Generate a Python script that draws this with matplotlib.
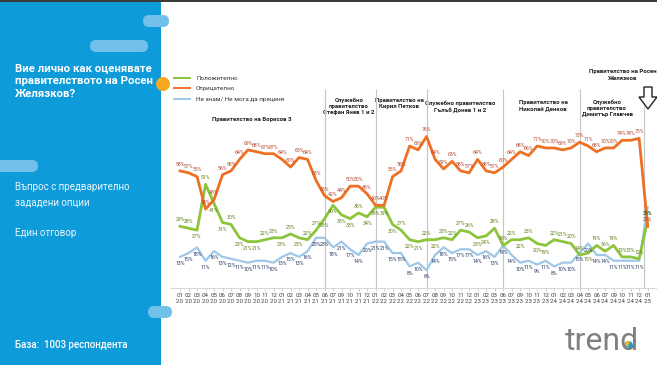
import matplotlib
matplotlib.use("Agg")
import matplotlib.pyplot as plt
from matplotlib.lines import Line2D
from matplotlib.patches import Circle, FancyBboxPatch, Polygon, Rectangle, Wedge

plt.rcParams["font.family"] = ["Roboto", "DejaVu Sans"]

# survey months (x axis)
months = (
    ["01", "02", "03", "04", "05", "06", "07", "08", "09", "10", "11", "12"]
    + ["01", "02", "03", "04", "05", "06", "07", "09", "10", "11", "12"]
    + ["01", "02", "03", "04", "05", "06", "07", "08", "09", "10", "11", "12"]
    + ["01", "02", "03", "06", "07", "09", "10", "11", "12"]
    + ["01", "02", "03", "04", "05", "06", "07", "09", "10", "11", "12"]
    + ["01"]
)
years = ["20"] * 12 + ["21"] * 11 + ["22"] * 12 + ["23"] * 9 + ["24"] * 11 + ["25"]

positive = [29, 28, 27, 51, 41, 31, 30, 23, 21, 21, 22, 23, 23, 25, 23, 22, 27,
            33, 40, 35, 33, 36, 34,
            39, 39, 30, 27, 22, 21,
            22, 22, 23, 22, 27, 26, 23, 24, 28,
            19, 22, 22, 23, 20, 19, 22, 21, 20,
            14, 15, 19, 16, 19, 13, 13, 12,
            32]
negative = [58, 57, 55, 38, 43, 56, 58, 64, 69, 68, 67, 67, 64, 60, 65, 64, 53,
            45, 42, 44, 50, 50, 46,
            40, 40, 55, 58, 71, 69,
            76, 64, 59, 63, 58, 57, 64, 58, 57,
            60, 64, 68, 66, 71, 70, 70, 69, 70,
            73, 71, 68, 70, 70, 74, 74, 75,
            29]
unknown = [13, 15, 18, 11, 16, 13, 12, 11, 10, 11, 11, 10, 13, 15, 13, 16, 23,
           23, 18, 21, 17, 14, 20,
           21, 21, 15, 15, 8, 10,
           6, 14, 18, 15, 17, 17, 14, 16, 13,
           19, 14, 10, 11, 9, 11, 8, 10, 10,
           15, 20, 14, 14, 11, 11, 11, 11,
           39]

series_names = ["Положително", "Отрицателно", "Не знам/ Не мога да преценя"]

# index of the first survey of each new government
period_starts = [17, 23, 29, 38, 47]
period_titles = [
    "Правителство на Борисов 3",
    "Служебно\nправителство\nСтефан Янев 1 и 2",
    "Правителство на\nКирил Петков",
    "Служебно правителство\nГълъб Донев 1 и 2",
    "Правителство на\nНиколай Денков",
    "Служебно\nправителство\nДимитър Главчев",
    "Правителство на Росен\nЖелязков",
]

BLUE = "#0e9bd9"
PILL = "#72c1ea"
GREEN = "#8cc43c"
ORANGE = "#ee7024"
LBLUE = "#9fc7e8"

W, H = 657, 365
fig = plt.figure(figsize=(W / 100, H / 100), dpi=100)

# background layer in pixel coordinates
bg = fig.add_axes([0, 0, 1, 1])
bg.set_xlim(0, W)
bg.set_ylim(H, 0)
bg.axis("off")
bg.add_patch(Rectangle((0, 0), 161, H, color=BLUE, lw=0))
bg.add_patch(Rectangle((0, 0), W, 2, color="#3a3a3a", lw=0))
for x0, y0, w, h in [(143, 15, 26, 12), (90, 40, 58, 12), (-10, 160, 48, 12), (148, 306, 24, 12)]:
    bg.add_patch(FancyBboxPatch((x0, y0), w, h, boxstyle=f"round,pad=0,rounding_size={h / 2}",
                                color=PILL, lw=0))
bg.add_patch(Circle((163, 84), 7, color="#f6a821", lw=0))

bg.text(15, 63, "Вие лично как оценявате\nправителството на Росен\nЖелязков?", color="white",
        fontsize=8.2, fontweight="bold", va="top", linespacing=1.35)
bg.text(15, 182, "Въпрос с предварително\nзададени опции", color="#eaf6fd", fontsize=7,
        va="top", linespacing=1.7)
bg.text(15, 228, "Един отговор", color="#eaf6fd", fontsize=7, va="top")
bg.text(15, 340, "База:  1003 респондента", color="white", fontsize=7, fontweight="medium", va="top")

# trend logo
bg.text(602, 341, "trend", color="#808080", fontsize=23, ha="center", va="center")
bg.add_patch(Circle((628.5, 345.5), 4.5, color="#1a9ad6", lw=0))
bg.add_patch(Wedge((628.5, 345.5), 4.5, 180, 290, color="#f6b51e", lw=0))
bg.add_patch(Wedge((628.5, 345.5), 4.5, 90, 180, color="#6cc7c0", lw=0))

# down arrow for the new government
bg.add_patch(Polygon([(644, 87), (652, 87), (652, 97), (657, 97), (648, 109), (639, 97), (644, 97)],
                     closed=True, facecolor="white", edgecolor="#222222", lw=1))

# chart
ax = fig.add_axes([170 / W, 1 - 287.5 / H, 487 / W, 227.5 / H])
ax.patch.set_alpha(0)
x = list(range(len(months)))
ax.set_xlim(-1.18, 56.1)
ax.set_ylim(-3, 116)

ax.vlines(period_starts, -3, 101, color="#c4c4c4", lw=0.8)
ax.vlines(54.6, -3, 92, color="#c4c4c4", lw=0.8)

ax.plot(x, unknown, color=LBLUE, lw=1.6, solid_joinstyle="round")
ax.plot(x, positive, color=GREEN, lw=2, solid_joinstyle="round")
ax.plot(x, negative, color=ORANGE, lw=2, solid_joinstyle="round")

label_font = dict(fontsize=3.7, ha="center", textcoords="offset points")
for i in x:
    ax.annotate(f"{negative[i]}%", (i, negative[i]), xytext=(0, 3), va="bottom", color="#b4452c", **label_font)
    ax.annotate(f"{unknown[i]}%", (i, unknown[i]), xytext=(0, -3), va="top", color="#22385e", **label_font)
    nb = [positive[j] for j in (i - 1, i + 1) if 0 <= j < len(positive)]
    up = positive[i] >= sum(nb) / len(nb)
    if 0 < negative[i] - positive[i] < 8:
        up = False
    if -4 < positive[i] - unknown[i] < 8:
        up = True
    ax.annotate(f"{positive[i]}%", (i, positive[i]), xytext=(0, 3 if up else -3),
                va="bottom" if up else "top", color="#5c7d16", **label_font)

ax.set_xticks(x)
ax.set_xticklabels([f"{m}\n'{y}" for m, y in zip(months, years)], fontsize=4.4, color="#444444",
                   linespacing=1.25)
ax.tick_params(axis="x", length=2, width=0.5, color="#bdbdbd", pad=2)
ax.set_yticks([])
for side in ("top", "right", "left"):
    ax.spines[side].set_visible(False)
ax.spines["bottom"].set_color("#d0d0d0")
ax.spines["bottom"].set_linewidth(0.6)

# government titles (pixel positions on background)
title_pos = [(252, 120), (349, 106), (399, 103.5), (460, 106.5), (543, 106), (607, 108), (623, 75)]
for (px, py), t in zip(title_pos, period_titles):
    bg.text(px, py, t, fontsize=4.3, fontweight="bold", color="#222222", ha="center", va="center",
            linespacing=1.3, zorder=5)

handles = [Line2D([], [], color=c, lw=1.4) for c in (GREEN, ORANGE, LBLUE)]
fig.legend(handles, series_names, loc="upper left", bbox_to_anchor=(168 / W, 1 - 70 / H),
           frameon=False, fontsize=4.6, handlelength=2.6, handletextpad=0.9, labelspacing=0.75,
           labelcolor="#333333")

fig.savefig("out.png", dpi=100)
